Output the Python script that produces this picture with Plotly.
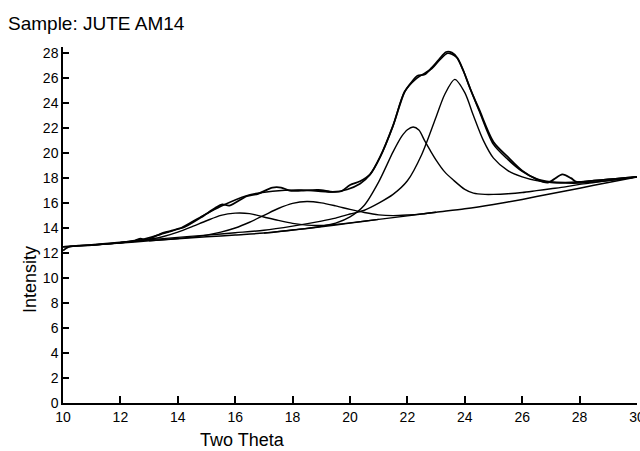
import plotly.graph_objects as go

# ---- data ----
base_x = [10, 11, 12, 13, 14, 15, 16, 17, 18, 19, 20, 21, 22, 23, 24, 25, 26, 27, 28, 29, 30]
base_y = [12.5, 12.65, 12.8, 12.98, 13.15, 13.3, 13.45, 13.6, 13.85, 14.1, 14.4, 14.7, 14.98,
          15.27, 15.55, 15.9, 16.3, 16.75, 17.2, 17.65, 18.1]

p1_x = [11, 12, 12.5, 13, 13.5, 14, 14.5, 15, 15.5, 16, 16.5, 17, 17.5, 18, 18.5, 19, 19.5, 20, 21]
p1_y = [12.65, 12.82, 12.94, 13.10, 13.33, 13.68, 14.12, 14.59, 15.02, 15.20, 15.16, 14.89,
        14.62, 14.38, 14.24, 14.22, 14.30, 14.42, 14.7]

p2_x = [13, 14, 14.5, 15, 15.5, 16, 16.5, 17, 17.5, 18, 18.5, 19, 19.5, 20, 20.5, 21, 21.5, 22, 22.5, 23]
p2_y = [12.98, 13.17, 13.28, 13.44, 13.68, 14.01, 14.47, 15.02, 15.57, 15.98, 16.13, 16.02,
        15.78, 15.5, 15.25, 15.06, 15.0, 15.05, 15.14, 15.27]

p3_x = [17, 18, 18.5, 19, 19.5, 20, 20.5, 21, 21.5, 21.8, 22, 22.2, 22.4, 22.6, 22.8, 23, 23.3,
        23.6, 24, 24.3, 24.7, 25, 25.5, 26, 26.5, 27, 27.5, 28, 28.5, 29, 29.5, 30]
p3_y = [13.6, 13.85, 13.98, 14.15, 14.4, 14.9, 15.83, 17.7, 20.1, 21.34, 21.88, 22.1, 21.85,
        21.0, 20.2, 19.45, 18.5, 17.85, 17.1, 16.8, 16.7, 16.7, 16.75, 16.85, 17.0, 17.15,
        17.3, 17.5, 17.65, 17.8, 17.95, 18.1]

p4_x = [12, 14, 15, 16, 17, 18, 19, 19.5, 20, 20.5, 21, 21.5, 22, 22.5, 23, 23.3, 23.65, 24,
        24.3, 24.65, 25, 25.5, 26, 26.5, 27, 27.5, 28, 28.5, 29, 29.5, 30]
p4_y = [12.88, 13.26, 13.44, 13.63, 13.83, 14.16, 14.56, 14.8, 15.13, 15.43, 16.0, 16.7, 17.79,
        19.9, 22.9, 24.7, 25.91, 24.85, 23.01, 21.0, 19.6, 18.6, 18.1, 17.8, 17.65, 17.6,
        17.6, 17.7, 17.8, 17.95, 18.1]

fit_x = [10, 11, 12, 12.7, 13.4, 14.1, 14.8, 15.5, 16.4, 17.3, 18.3, 19.4, 19.9, 20.35, 20.7,
         21.05, 21.5, 21.9, 22.3, 22.85, 23.1, 23.4, 23.7, 23.95, 24.2, 24.5, 25.0, 25.5, 26.0,
         26.5, 27.0, 27.5, 28.0, 28.5, 29.0, 29.5, 30.0]
fit_y = [12.5, 12.65, 12.83, 13.05, 13.5, 14.0, 14.9, 15.75, 16.6, 16.95, 17.05, 16.9, 17.1,
         17.55, 18.3, 19.7, 22.2, 24.9, 25.95, 26.76, 27.4, 28.0, 27.7, 26.6, 25.1, 23.4, 20.7,
         19.5, 18.55, 17.95, 17.7, 17.65, 17.7, 17.8, 17.9, 18.0, 18.1]

obs_x = [10.0, 10.2, 11, 12, 12.5, 12.7, 12.9, 13.4, 13.7, 14.0, 14.2, 14.8, 15.3, 15.55, 15.8,
         16.4, 16.8, 17.3, 17.6, 17.9, 18.3, 18.9, 19.4, 19.7, 20.0, 20.35, 20.7, 21.05, 21.5,
         21.9, 22.15, 22.35, 22.6, 22.85, 23.1, 23.35, 23.55, 23.75, 23.95, 24.2, 24.5, 25.0,
         25.5, 26.0, 26.5, 26.9, 27.1, 27.4, 27.7, 27.9, 28.5, 29.0, 29.5, 30.0]
obs_y = [12.2, 12.5, 12.65, 12.85, 13.0, 13.15, 13.05, 13.55, 13.75, 13.95, 14.05, 14.85, 15.6,
         15.9, 15.8, 16.55, 16.75, 17.25, 17.25, 17.0, 17.0, 17.05, 16.9, 16.95, 17.45, 17.75,
         18.3, 19.7, 22.2, 24.9, 25.7, 26.2, 26.3, 26.85, 27.5, 28.1, 28.05, 27.6, 26.6, 25.1,
         23.5, 20.9, 19.7, 18.6, 17.9, 17.65, 17.9, 18.3, 18.0, 17.7, 17.8, 17.9, 18.0, 18.1]

x_ticks = [10, 12, 14, 16, 18, 20, 22, 24, 26, 28, 30]
y_ticks = [0, 2, 4, 6, 8, 10, 12, 14, 16, 18, 20, 22, 24, 26, 28]

FONT = "Liberation Sans"

fig = go.Figure()
curves = [
    (base_x, base_y, 1.5),
    (p1_x, p1_y, 1.4),
    (p2_x, p2_y, 1.4),
    (p3_x, p3_y, 1.4),
    (p4_x, p4_y, 1.4),
    (fit_x, fit_y, 1.6),
    (obs_x, obs_y, 1.8),
]
for xs, ys, w in curves:
    fig.add_trace(go.Scatter(x=xs, y=ys, mode="lines",
                             line=dict(color="black", width=w, shape="spline", smoothing=0.8),
                             showlegend=False, hoverinfo="skip"))

fig.update_layout(
    width=640, height=451,
    margin=dict(l=63, r=3, t=47, b=48, autoexpand=False),
    paper_bgcolor="white", plot_bgcolor="white",
    font=dict(family=FONT, color="black"),
    title=dict(text="Sample: JUTE AM14", x=8 / 640, xanchor="left", xref="container",
               y=1 - 23 / 451, yanchor="middle", yref="container",
               font=dict(size=19, family=FONT, color="black")),
    xaxis=dict(range=[10, 30], tickvals=x_ticks, ticktext=[str(v) for v in x_ticks],
               showline=True, linecolor="black", linewidth=1.5, mirror=False,
               ticks="inside", ticklen=7, tickwidth=1.5, tickcolor="black",
               showgrid=False, zeroline=False, ticklabeloverflow="allow", automargin=False,
               tickfont=dict(size=14, family=FONT, color="black")),
    yaxis=dict(range=[0, 28.5], tickvals=y_ticks, ticktext=[str(v) for v in y_ticks],
               showline=True, linecolor="black", linewidth=1.5, mirror=False,
               ticks="inside", ticklen=6, tickwidth=1.5, tickcolor="black",
               showgrid=False, zeroline=False, automargin=False,
               tickfont=dict(size=14, family=FONT, color="black")),
    annotations=[
        dict(text="Two Theta", x=16.25, xref="x", y=0, yref="paper", yanchor="top",
             xanchor="center", yshift=-25, showarrow=False,
             font=dict(size=18, family=FONT, color="black")),
        dict(text="Intensity", x=0, xref="paper", xshift=-33, xanchor="center",
             y=9.84, yref="y", yanchor="middle", textangle=-90, showarrow=False,
             font=dict(size=18, family=FONT, color="black")),
    ],
)

fig.write_html("out.html")
